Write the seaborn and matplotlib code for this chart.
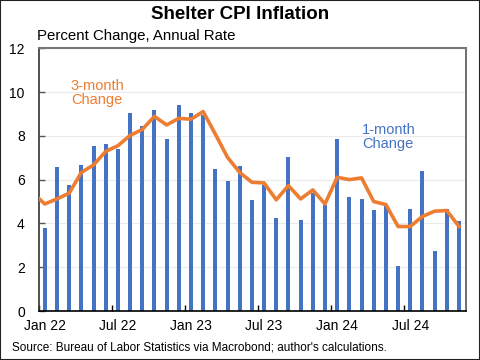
import numpy as np
import pandas as pd
import seaborn as sns
import matplotlib.pyplot as plt
from matplotlib.patches import Rectangle
from matplotlib.ticker import FixedLocator

# monthly data, Jan 22 .. Nov 24
months = pd.date_range('2022-01-01', '2024-11-01', freq='MS')
one_month = [3.80, 6.59, 5.77, 6.68, 7.55, 7.65, 7.38, 9.03, 8.44, 9.20, 7.86, 9.41,
             9.03, 8.95, 6.47, 5.95, 6.64, 5.08, 5.77, 4.26, 7.05, 4.14, 5.41, 4.82,
             7.85, 5.23, 5.12, 4.62, 4.79, 2.06, 4.64, 6.41, 2.73, 4.65, 4.09]
# 3-month series starts one month earlier (Dec 21)
three_month = [5.40,
               4.89, 5.12, 5.38, 6.33, 6.67, 7.29, 7.55, 8.02, 8.29, 8.89, 8.50, 8.80,
               8.76, 9.11, 8.08, 7.02, 6.33, 5.88, 5.85, 5.08, 5.73, 5.12, 5.53, 4.89,
               6.11, 6.00, 6.08, 5.00, 4.86, 3.86, 3.86, 4.32, 4.56, 4.59, 3.86]
tick_labels = ['Jan 22', 'Jul 22', 'Jan 23', 'Jul 23', 'Jan 24', 'Jul 24']

blue = '#4472C4'
orange = '#ED7D31'

df_bar = pd.DataFrame({'i': np.arange(len(one_month)), 'val': one_month})
df_line = pd.DataFrame({'i': np.arange(-1, len(one_month)), 'val': three_month})

plt.rcParams['font.family'] = ['Liberation Sans', 'DejaVu Sans']

fig = plt.figure(figsize=(4.8, 3.6), dpi=100)
ax = fig.add_axes([0.0806, 0.1361, 0.8896, 0.7297])

sns.barplot(data=df_bar, x='i', y='val', native_scale=True, color=blue,
            width=0.33, saturation=1, ax=ax, zorder=2)
sns.lineplot(data=df_line, x='i', y='val', color=orange, linewidth=2.6, ax=ax, zorder=3)

ax.set_xlim(-0.5, 34.55)
ax.set_ylim(0, 12)
ax.set_yticks(range(0, 13, 2))
ax.set_xticks(range(0, 35, 6))
ax.set_xticklabels(tick_labels, fontsize=10)
ax.xaxis.set_minor_locator(FixedLocator([-0.5 + k for k in range(0, 35, 6)]))
ax.tick_params(axis='x', which='major', length=0, pad=6)
ax.tick_params(axis='x', which='minor', direction='in', length=4, width=1, color='black')
ax.tick_params(axis='y', direction='in', length=4, width=1, color='#555555', labelsize=10, pad=10)
ax.set_xlabel('')
ax.set_ylabel('')

ax.grid(axis='y', color='#EBEBEB', linewidth=0.8, zorder=0)
ax.set_axisbelow(True)
ax.spines['top'].set_color('#777777')
ax.spines['top'].set_linewidth(1.5)
ax.spines['right'].set_color('#555555')
ax.spines['right'].set_linewidth(1.2)
ax.spines['left'].set_color('#333333')
ax.spines['left'].set_linewidth(1.2)
ax.spines['bottom'].set_color('black')
ax.spines['bottom'].set_linewidth(1.2)

ax.text(4.3, 9.95, '3-month\nChange', color=orange, fontsize=10.5,
        ha='center', va='center', linespacing=1.05)
ax.text(28.2, 7.95, '1-month\nChange', color=blue, fontsize=10.5,
        ha='center', va='center', linespacing=1.05)

fig.text(0.5, 0.96, 'Shelter CPI Inflation', ha='center', va='center',
         fontsize=13.5, fontweight='bold')
fig.text(0.078, 0.90, 'Percent Change, Annual Rate', ha='left', va='center', fontsize=10.8)
fig.text(0.025, 0.036, "Source: Bureau of Labor Statistics via Macrobond; author's calculations.",
         ha='left', va='center', fontsize=8.5)

fig.patches.append(Rectangle((0, 0), 1, 1, transform=fig.transFigure, fill=False,
                             edgecolor='#222222', linewidth=1.5))

fig.savefig('out.png', dpi=100)
